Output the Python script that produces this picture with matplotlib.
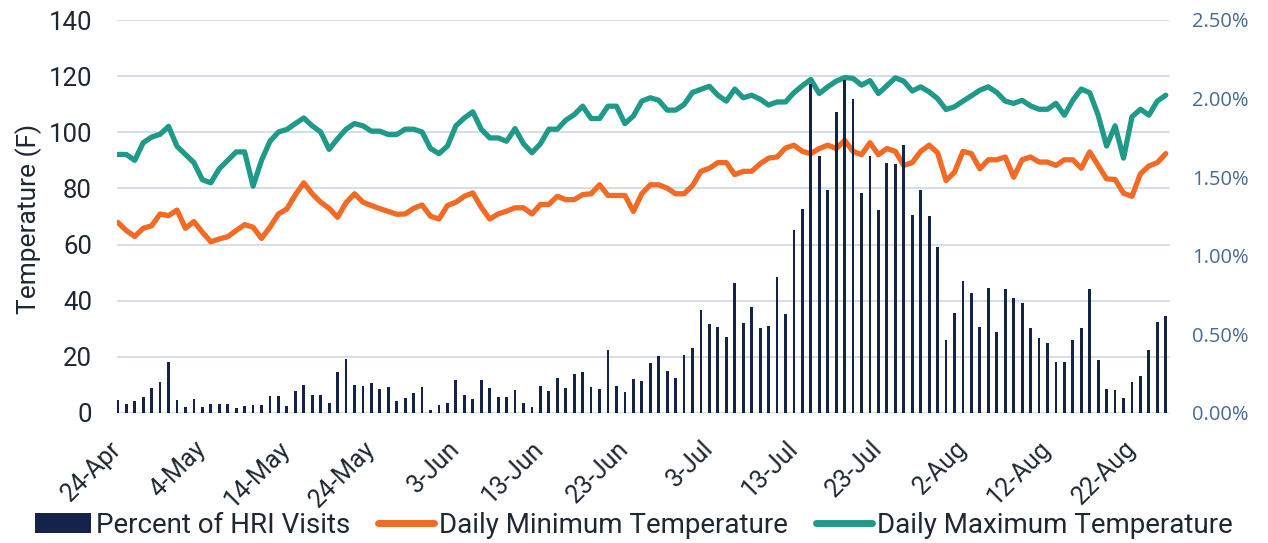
import matplotlib
matplotlib.use("Agg")
import matplotlib.pyplot as plt
from matplotlib.patches import Patch
from matplotlib.lines import Line2D
from matplotlib.ticker import FuncFormatter
import numpy as np

# ---------------- data ----------------
tick_labels = ['24-Apr', '4-May', '14-May', '24-May', '3-Jun', '13-Jun', '23-Jun',
               '3-Jul', '13-Jul', '23-Jul', '2-Aug', '12-Aug', '22-Aug']

hri_pct = [
    0.085, 0.06, 0.075, 0.10, 0.16, 0.20, 0.325, 0.085, 0.04, 0.09,
    0.04, 0.055, 0.057, 0.057, 0.03, 0.047, 0.05, 0.05, 0.105, 0.105,
    0.047, 0.14, 0.175, 0.115, 0.115, 0.065, 0.26, 0.345, 0.18, 0.17,
    0.19, 0.15, 0.165, 0.075,
    0.096, 0.128, 0.166, 0.021, 0.053, 0.064, 0.213, 0.113, 0.089, 0.209,
    0.16, 0.10, 0.10, 0.145, 0.064, 0.038, 0.17, 0.143, 0.223, 0.16,
    0.251, 0.262, 0.164, 0.153, 0.398, 0.17, 0.132, 0.219, 0.202, 0.315,
    0.36, 0.266, 0.223,
    0.366, 0.413, 0.655, 0.568, 0.547, 0.483, 0.826, 0.574, 0.677, 0.543,
    0.553, 0.862, 0.628, 1.164, 1.298, 2.09, 1.638, 1.419, 1.915, 2.117,
    2.0, 1.40, 1.632, 1.291, 1.591, 1.585, 1.706, 1.26, 1.419, 1.251,
    1.053, 0.464, 0.634,
    0.84, 0.762, 0.549, 0.798, 0.517, 0.791, 0.734, 0.702, 0.543, 0.479,
    0.443, 0.323, 0.323, 0.462, 0.543, 0.791, 0.34, 0.153, 0.145, 0.096,
    0.196, 0.234, 0.40, 0.579, 0.617,
]

max_temp = [
    92.1, 92.1, 90.0, 96.3, 98.3, 99.3, 102.1, 95.0, 92.1, 89.2,
    83.1, 82.0, 87.0, 90.0, 93.0, 93.0, 80.8, 90.0, 96.8, 100.1,
    101.0, 103.1, 105.1, 102.3, 100.1, 93.9, 97.7, 101.1, 103.1, 102.3,
    100.4, 100.4, 99.2, 99.2,
    101.1, 101.1, 100.1, 94.2, 92.4, 95.1, 102.3, 105.1, 107.3, 101.1,
    98.0, 98.0, 96.8, 101.3, 95.9, 92.7, 95.9, 101.1, 101.1, 104.3,
    106.3, 109.3, 104.9, 104.9, 109.3, 109.3, 103.1, 105.8, 111.1, 112.3,
    111.4, 107.9, 107.9,
    109.9, 114.2, 115.3, 116.4, 113.2, 111.1, 115.4, 112.3, 113.2, 111.8,
    109.7, 110.8, 110.8, 114.1, 116.6, 118.8, 113.8, 116.2, 118.2, 119.5,
    119.2, 116.8, 118.4, 113.8, 116.6, 119.4, 118.2, 114.7, 116.2, 114.4,
    112.0, 108.1, 109.1,
    111.1, 113.0, 115.0, 116.2, 114.2, 111.1, 110.3, 111.4, 109.4, 108.2,
    108.2, 110.3, 106.1, 111.4, 115.4, 114.1, 106.1, 95.1, 102.3, 90.8,
    105.5, 108.2, 106.1, 111.1, 113.2,
]

min_temp = [
    67.9, 65.0, 62.9, 65.8, 66.7, 70.9, 70.3, 72.3, 65.8, 68.2,
    64.4, 61.0, 62.0, 62.8, 65.0, 67.1, 66.2, 62.2, 66.2, 70.9,
    72.7, 77.7, 82.0, 78.1, 75.1, 72.9, 69.7, 74.9, 78.1, 75.1,
    73.9, 72.8, 71.8, 70.8,
    70.9, 72.9, 74.1, 70.1, 69.1, 73.9, 75.1, 77.2, 78.4, 73.3,
    69.1, 70.9, 71.9, 73.1, 73.1, 70.9, 74.3, 74.3, 77.2, 76.0,
    76.0, 77.8, 78.1, 81.3, 77.5, 77.5, 77.5, 71.8, 78.1, 81.3,
    81.3, 80.1, 78.1,
    78.1, 81.0, 86.1, 87.2, 89.2, 89.2, 84.9, 86.1, 86.1, 88.8,
    90.8, 91.2, 94.4, 95.4, 93.2, 92.4, 94.2, 95.4, 94.2, 97.1,
    93.2, 92.0, 96.3, 92.0, 94.2, 93.2, 88.2, 89.2, 93.2, 95.4,
    92.7, 82.8, 85.8,
    93.2, 92.4, 87.0, 90.2, 90.2, 91.2, 84.0, 90.2, 91.2, 89.4,
    89.4, 88.2, 90.2, 90.2, 87.2, 93.0, 88.2, 83.4, 83.2, 78.3,
    77.2, 85.2, 88.0, 89.2, 92.4,
]

# ---------------- style ----------------
BAR_C = '#15234B'
MIN_C = '#F26A23'
MAX_C = '#1F9A89'
GRID_C = '#D5DEE9'
TXT_C = '#1E2833'
RIGHT_C = '#4A6A8E'
FONT = ['Roboto', 'DejaVu Sans']

plt.rcParams['font.family'] = FONT

x = np.arange(len(hri_pct))

fig = plt.figure(figsize=(12.68, 5.43), dpi=100)
ax = fig.add_axes([117 / 1268, 1 - 413 / 543, (1170 - 117) / 1268, (413 - 20) / 543])
ax2 = ax.twinx()

# lines on primary axis
ax.plot(x, min_temp, color=MIN_C, lw=3.8, solid_joinstyle='round', solid_capstyle='round', zorder=3)
ax.plot(x, max_temp, color=MAX_C, lw=3.8, solid_joinstyle='round', solid_capstyle='round', zorder=3)

# bars on secondary axis (drawn on top, as in the reference)
ax2.bar(x, hri_pct, width=0.33, color=BAR_C, zorder=3)

ax.set_xlim(-0.1, len(hri_pct) - 0.5)
ax.set_ylim(0, 140)
ax2.set_ylim(0, 2.5)

ax.set_yticks(np.arange(0, 141, 20))
ax2.set_yticks(np.arange(0, 2.51, 0.5))
ax2.yaxis.set_major_formatter(FuncFormatter(lambda v, p: f"{v:.2f}%"))

ax.set_xticks(np.arange(0, len(hri_pct), 10))
ax.set_xticklabels(tick_labels, rotation=45, ha='right', va='center',
                   rotation_mode='anchor', fontsize=18, color=TXT_C)

ax.yaxis.grid(True, color=GRID_C, lw=1.4)
ax.set_axisbelow(True)

for a in (ax, ax2):
    for s in ('top', 'left', 'right', 'bottom'):
        a.spines[s].set_visible(False)
ax.axhline(0, color=GRID_C, lw=2.0, zorder=1)

ax.tick_params(axis='both', length=0)
ax.tick_params(axis='y', labelsize=18.5, labelcolor=TXT_C, pad=18)
ax.tick_params(axis='x', pad=23)
ax2.tick_params(axis='y', length=0, labelsize=14.5, labelcolor=RIGHT_C, pad=16)
for lab in ax2.get_yticklabels():
    lab.set_fontfamily(['Open Sans', 'DejaVu Sans'])

ax.set_ylabel('Temperature (F)', fontsize=19, color=TXT_C)
ax.yaxis.set_label_coords(-0.071, 0.495)

handles = [
    Patch(facecolor=BAR_C, edgecolor='none'),
    Line2D([0], [0], color=MIN_C, lw=5, solid_capstyle='round'),
    Line2D([0], [0], color=MAX_C, lw=5, solid_capstyle='round'),
]
labels = ['Percent of HRI Visits', 'Daily Minimum Temperature', 'Daily Maximum Temperature']
leg = fig.legend(handles, labels, loc='center', bbox_to_anchor=(0.5, 0.033), ncol=3,
                 frameon=False, fontsize=20, handlelength=2.0, handleheight=0.75,
                 handletextpad=0.2, columnspacing=1.0, borderaxespad=0)
for t in leg.get_texts():
    t.set_color(TXT_C)

fig.savefig('out.png', dpi=100)
